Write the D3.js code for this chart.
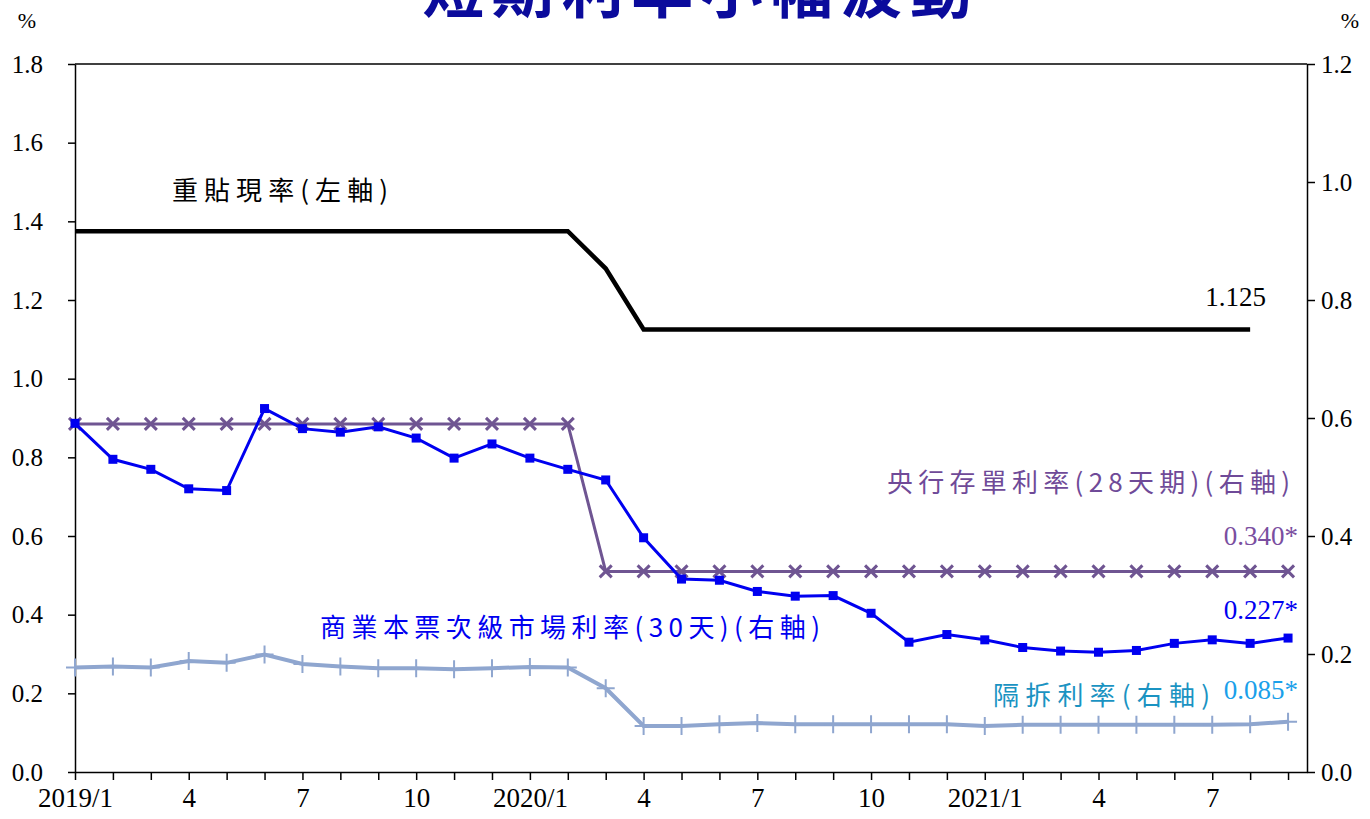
<!DOCTYPE html>
<html>
<head>
<meta charset="utf-8">
<script src="https://cdn.jsdelivr.net/npm/d3@7"></script>
<style>
	body { margin: 0; background: #fff; }
	svg { display: block; }
	.axis text { font-family: "Liberation Serif", "Times New Roman", serif; font-size: 25px; fill: #000; }
	.x.axis text { font-size: 27px; }
	.axis path, .axis line { stroke: #000; stroke-width: 1.5; }
	.lbl { font-family: "Noto Sans CJK TC", "Liberation Serif", serif; font-size: 26px; }
	.num { font-family: "Liberation Serif", "Times New Roman", serif; font-size: 27px; }
</style>
</head>
<body>
<div id="graphic"></div>
<script>
// months, 2019/1 .. 2021/9
const months = ["2019/1","2","3","4","5","6","7","8","9","10","11","12",
	"2020/1","2","3","4","5","6","7","8","9","10","11","12",
	"2021/1","2","3","4","5","6","7","8","9"];

// 重貼現率 (left axis), ends at 2021/8
const discountRate = [1.375,1.375,1.375,1.375,1.375,1.375,1.375,1.375,1.375,1.375,1.375,1.375,
	1.375,1.375,1.28,1.125,1.125,1.125,1.125,1.125,1.125,1.125,1.125,1.125,
	1.125,1.125,1.125,1.125,1.125,1.125,1.125,1.125];

// 央行存單利率(28天期) (right axis)
const cdRate = [0.59,0.59,0.59,0.59,0.59,0.59,0.59,0.59,0.59,0.59,0.59,0.59,
	0.59,0.59,0.34,0.34,0.34,0.34,0.34,0.34,0.34,0.34,0.34,0.34,
	0.34,0.34,0.34,0.34,0.34,0.34,0.34,0.34,0.34];

// 商業本票次級市場利率(30天) (right axis)
const cpRate = [0.591,0.530,0.513,0.480,0.477,0.616,0.582,0.576,0.585,0.566,0.532,0.556,
	0.532,0.513,0.495,0.397,0.327,0.325,0.306,0.298,0.299,0.269,0.220,0.233,
	0.224,0.211,0.205,0.203,0.206,0.218,0.224,0.218,0.227];

// 隔拆利率 (right axis)
const callRate = [0.177,0.179,0.177,0.188,0.185,0.199,0.183,0.179,0.176,0.176,0.174,0.176,
	0.178,0.177,0.142,0.078,0.078,0.081,0.083,0.081,0.081,0.081,0.081,0.081,
	0.078,0.080,0.080,0.080,0.080,0.080,0.080,0.081,0.085];

const leftTicks = [0,0.2,0.4,0.6,0.8,1.0,1.2,1.4,1.6,1.8];
const rightTicks = [0,0.2,0.4,0.6,0.8,1.0,1.2];

const width = 1370, height = 819;
const margin = { top: 64, right: 63, bottom: 47, left: 75 };
const chartWidth = width - margin.left - margin.right;
const chartHeight = height - margin.top - margin.bottom;

const svg = d3.select('#graphic').append('svg')
	.attr('width', width).attr('height', height);

// title, cut off by the top edge as in the original
svg.append('text')
	.attr('x', 697).attr('y', 13)
	.attr('text-anchor', 'middle')
	.attr('textLength', 550).attr('lengthAdjust', 'spacing')
	.style('font-family', '"Noto Sans CJK TC", sans-serif')
	.style('font-size', '62px').style('font-weight', 'bold')
	.style('fill', '#0b0b9c')
	.text('短期利率小幅波動');

const g = svg.append('g').attr('transform', `translate(${margin.left},${margin.top})`);

const x = d3.scaleLinear().domain([0, 32.5]).range([0, chartWidth]);
const yL = d3.scaleLinear().domain([0, 1.8]).range([chartHeight, 0]);
const yR = d3.scaleLinear().domain([0, 1.2]).range([chartHeight, 0]);

// frame top
g.append('line').attr('x1', 0).attr('x2', chartWidth).attr('y1', 0).attr('y2', 0)
	.attr('stroke', '#000').attr('stroke-width', 1.5);

g.append('g').attr('class', 'y axis')
	.call(d3.axisLeft(yL).tickValues(leftTicks).tickFormat(d3.format('.1f')).tickSize(7).tickSizeOuter(0).tickPadding(25));

g.append('g').attr('class', 'y axis').attr('transform', `translate(${chartWidth},0)`)
	.call(d3.axisRight(yR).tickValues(rightTicks).tickFormat(d3.format('.1f')).tickSize(8).tickSizeOuter(0).tickPadding(6));

g.append('g').attr('class', 'x axis').attr('transform', `translate(0,${chartHeight})`)
	.call(d3.axisBottom(x).tickValues(d3.range(months.length))
		.tickFormat((d) => d % 3 === 0 ? months[d] : '')
		.tickSize(8).tickSizeOuter(0).tickPadding(8));

// y-unit labels
svg.append('text').attr('class', 'num').attr('x', 27).attr('y', 28).attr('text-anchor', 'middle').style('font-size', '22px').text('%');
svg.append('text').attr('class', 'num').attr('x', 1350).attr('y', 28).attr('text-anchor', 'middle').style('font-size', '22px').text('%');

const lineL = d3.line().x((d, i) => x(i)).y((d) => yL(d));
const lineR = d3.line().x((d, i) => x(i)).y((d) => yR(d));

// 隔拆
g.append('path').datum(callRate).attr('d', lineR)
	.attr('fill', 'none').attr('stroke', '#8fa6cf').attr('stroke-width', 4);
g.append('g').selectAll('path').data(callRate).join('path')
	.attr('d', (d, i) => `M${x(i) - 9},${yR(d)}H${x(i) + 9}M${x(i)},${yR(d) - 9}V${yR(d) + 9}`)
	.attr('stroke', '#8fa6cf').attr('stroke-width', 2);

// 重貼現率
g.append('path').datum(discountRate).attr('d', lineL)
	.attr('fill', 'none').attr('stroke', '#000').attr('stroke-width', 4.5);

// 央行存單
g.append('path').datum(cdRate).attr('d', lineR)
	.attr('fill', 'none').attr('stroke', '#6f5592').attr('stroke-width', 3);
g.append('g').selectAll('path').data(cdRate).join('path')
	.attr('d', (d, i) => `M${x(i) - 6},${yR(d) - 6}L${x(i) + 6},${yR(d) + 6}M${x(i) - 6},${yR(d) + 6}L${x(i) + 6},${yR(d) - 6}`)
	.attr('stroke', '#6f5592').attr('stroke-width', 3);

// 商業本票
g.append('path').datum(cpRate).attr('d', lineR)
	.attr('fill', 'none').attr('stroke', '#0000f0').attr('stroke-width', 3);
g.append('g').selectAll('rect').data(cpRate).join('rect')
	.attr('x', (d, i) => x(i) - 4.5).attr('y', (d) => yR(d) - 4.5)
	.attr('width', 9).attr('height', 9).attr('fill', '#0000f0');

// labels
function label(txt, xPos, yPos, colour, len, cls, anchor) {
	const t = svg.append('text').attr('class', cls || 'lbl')
		.attr('x', xPos).attr('y', yPos).style('fill', colour)
		.attr('text-anchor', anchor || 'start').text(txt);
	if (len) t.attr('textLength', len).attr('lengthAdjust', 'spacing');
}
label('重貼現率(左軸)', 172, 200, '#000', 216);
label('1.125', 1266, 306, '#000', null, 'num', 'end');
label('央行存單利率(28天期)(右軸)', 887, 492, '#6f4a98', 403);
label('0.340*', 1298, 545, '#7a4ea0', null, 'num', 'end');
label('0.227*', 1298, 619, '#0000f0', null, 'num', 'end');
label('商業本票次級市場利率(30天)(右軸)', 320, 637, '#0000f0', 500);
label('隔拆利率(右軸)', 993, 705, '#1a93c2', 217);
label('0.085*', 1298, 699, '#1aa0ea', null, 'num', 'end');
</script>
</body>
</html>
